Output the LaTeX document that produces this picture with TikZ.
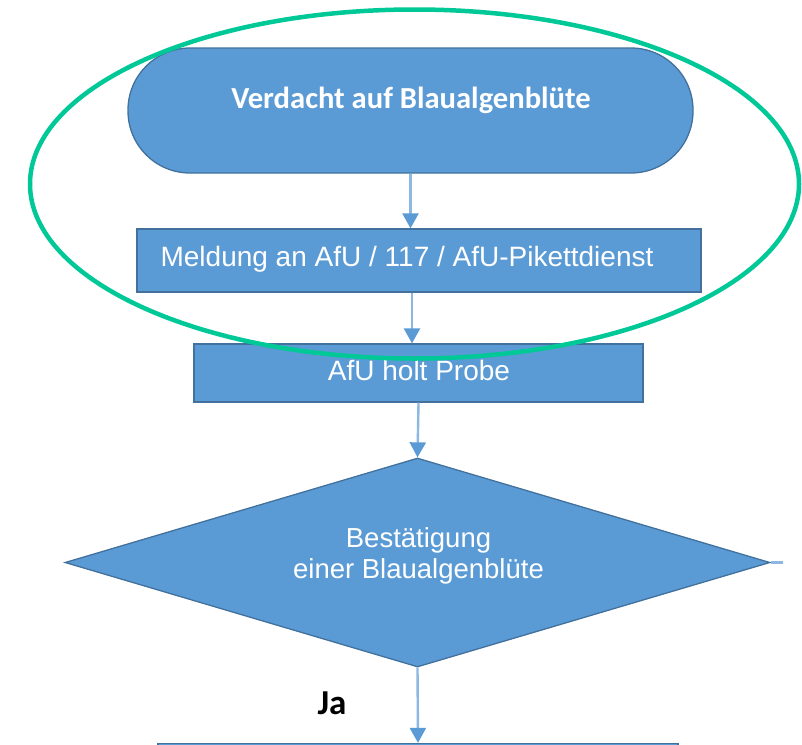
\documentclass[tikz,border=0pt]{standalone}
\usepackage{fontspec}
\usetikzlibrary{shapes.geometric,arrows.meta}
\newfontfamily\arialf{Liberation Sans}
\newfontfamily\calib{Carlito}
\definecolor{boxblue}{RGB}{91,155,213}
\definecolor{edgeblue}{RGB}{65,113,156}
\definecolor{shaftblue}{RGB}{140,184,228}
\definecolor{ringgreen}{RGB}{0,200,150}
\tikzset{
  flowbox/.style={draw=edgeblue, fill=boxblue, line width=1.3pt, inner sep=0pt, text=white},
  termbox/.style={flowbox, rectangle, rounded corners=62pt, minimum width=565pt, minimum height=125pt},
  procbox/.style={flowbox, rectangle},
  decbox/.style={flowbox, diamond, minimum width=705pt, minimum height=209pt},
  flowarrow/.style={draw=shaftblue, line width=2.4pt, -{Triangle[width=16pt,length=15pt,color=boxblue]}},
  whitetext/.style={text=white, inner sep=0pt, anchor=base},
}
\begin{document}
\begin{tikzpicture}[x=1pt,y=-1pt]
\useasboundingbox (0,0) rectangle (802,744);
\fill[white] (0,0) rectangle (802,744);
% shapes
\node[termbox] (st) at (410.5,110.5) {};
\node[procbox, minimum width=564pt, minimum height=63pt] (b2) at (419,260.5) {};
\node[procbox, minimum width=449pt, minimum height=58pt] (b3) at (418.5,373) {};
\node[decbox] (dia) at (417.5,562.5) {};
\begin{scope}
\clip (0,0) rectangle (802,744);
\node[procbox, minimum width=520pt, minimum height=100pt] (b5) at (418,793.5) {};
\end{scope}
% texts
\node[whitetext, font=\calib\bfseries\fontsize{30.6}{34}\selectfont] (t1) at (411,108) {Verdacht auf Blaualgenblüte};
\node[whitetext, font=\arialf\fontsize{28}{31}\selectfont] (t2) at (407,266) {Meldung an AfU / 117 / AfU-Pikettdienst};
\node[whitetext, font=\arialf\fontsize{28}{31}\selectfont] (t3) at (419,380) {AfU holt Probe};
\node[whitetext, font=\arialf\fontsize{27.5}{31}\selectfont, align=center] (t4) at (418.5,578) {Bestätigung\\einer Blaualgenblüte};
\node[inner sep=0pt, anchor=base, font=\calib\bfseries\fontsize{35}{40}\selectfont, text=black] (ja) at (332,714) {Ja};
% connectors
\coordinate (x2) at (412,0);
\coordinate (stub) at (783,562.5);
\draw[flowarrow] (st.south) -- (b2.north -| st.south);
\draw[flowarrow] (b2.south -| x2) -- (b3.north -| x2);
\draw[flowarrow] (b3.south) -- (dia.north);
\draw[flowarrow] (dia.south) -- (b5.north);
\draw[draw=shaftblue, line width=2.4pt] (dia.east) -- (stub);
% highlight ring
\node[draw=ringgreen, line width=4.5pt, ellipse, minimum width=769pt, minimum height=349pt, inner sep=0pt] (ring) at (414.5,184) {};
\end{tikzpicture}
\end{document}
